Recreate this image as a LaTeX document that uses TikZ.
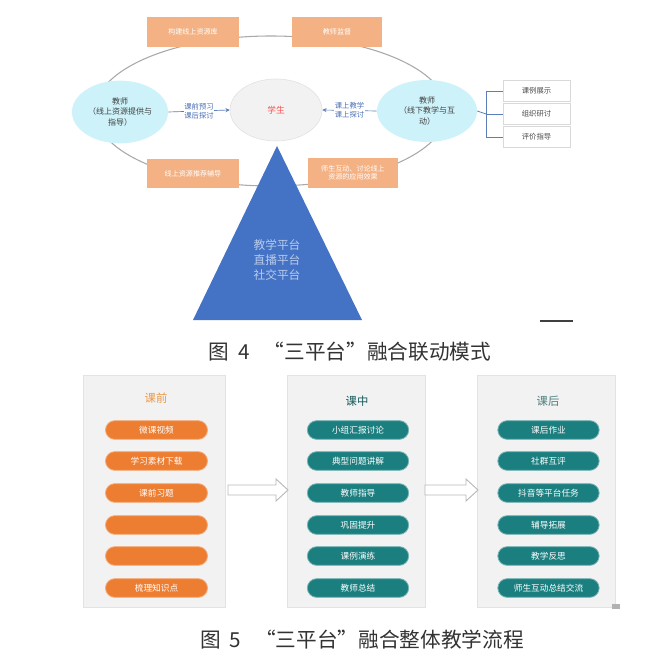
\documentclass[tikz,border=0pt]{standalone}
\usepackage{fontspec}
\setmainfont{Noto Sans CJK SC}
\usetikzlibrary{shapes.geometric,arrows.meta}
\definecolor{ringc}{HTML}{A9A9A9}
\definecolor{orangeL}{HTML}{F4B183}
\definecolor{cyanL}{HTML}{CDF2FA}
\definecolor{blueT}{HTML}{4A6FB5}
\definecolor{blueA}{HTML}{5B7DB8}
\definecolor{triC}{HTML}{4472C4}
\definecolor{triT}{HTML}{B9CBEA}
\definecolor{pillO}{HTML}{ED7D31}
\definecolor{pillT}{HTML}{1B7F80}
\definecolor{panelF}{HTML}{F2F2F2}
\definecolor{capC}{HTML}{333333}
\begin{document}
\begin{tikzpicture}[x=0.75pt,y=-0.75pt,
  obox/.style={fill=orangeL, text=white, font=\fontsize{5.3}{6.5}\selectfont, align=center, inner sep=1pt},
  tealell/.style={ellipse, fill=cyanL, minimum width=72pt, minimum height=47pt, inner sep=0pt, align=center, font=\fontsize{6}{7.6}\selectfont, text=black!75},
  stu/.style={ellipse, fill=gray!10, draw=gray!25, minimum width=69pt, minimum height=46.5pt, inner sep=0pt, text=red!70, font=\fontsize{6.5}{8}\selectfont},
  lbl/.style={fill=white, text=blueT, font=\fontsize{5.5}{6.8}\selectfont, align=center, inner sep=0.6pt},
  conn/.style={draw=blueA, line width=0.5pt, -{Stealth[length=3.2pt,width=3pt]}},
  rbox/.style={draw=gray!30, fill=white, minimum width=50pt, minimum height=16pt, inner sep=0pt, font=\fontsize{5.5}{6.5}\selectfont, text=black!70},
  brk/.style={draw=blueA, line width=0.6pt},
  panel/.style={fill=panelF, draw=gray!22, line width=0.7pt, inner sep=0pt},
  opill/.style={rounded corners=7pt, fill=pillO, draw=pillO!65!white, line width=0.6pt, minimum width=76.5pt, minimum height=14pt, inner sep=0pt, text=white, font=\fontsize{6.5}{7}\selectfont},
  tpill/.style={rounded corners=7pt, fill=pillT, draw=pillT!60!white, line width=0.6pt, minimum width=76pt, minimum height=14pt, inner sep=0pt, text=white, font=\fontsize{6.5}{7}\selectfont},
  ptitle/.style={font=\fontsize{8.5}{9}\selectfont},
  harrow/.style={draw=gray!55, fill=white, line width=0.7pt},
  captext/.style={text=capC, font=\fontsize{15.5}{16}\selectfont}
]
\useasboundingbox[fill=white] (0,0) rectangle (661,666);

% ---------- Figure 4 ----------
\draw[ringc, line width=0.8pt] (271,111) ellipse [x radius=132pt, y radius=56.25pt];

\node[tealell] (L) at (120,112) {教师\\（线上资源提供与\\指导）};
\node[tealell, minimum width=75pt, minimum height=46.5pt] (R) at (427,111) {教师\\（线下教学与互\\动）};
\node[stu] (S) at (276,110) {学生};

\draw[conn] (L.east) -- node[lbl] {课前预习\\课后探讨} (S.west);
\draw[conn] (R.west) -- node[lbl] {课上教学\\课上探讨} (S.east);

\node[obox, minimum width=69pt, minimum height=22pt] (o1) at (193,32) {构建线上资源库};
\node[obox, minimum width=67pt, minimum height=22pt] (o2) at (337,32) {教师监督};
\node[obox, minimum width=69pt, minimum height=21.5pt] (o3) at (193,173.5) {线上资源推荐辅导};
\node[obox, minimum width=67.5pt, minimum height=22.5pt] (o4) at (353,173) {师生互动、讨论线上\\资源的应用效果};

\node[rbox] (r1) at (536.5,91) {课例展示};
\node[rbox] (r2) at (536.5,114) {组织研讨};
\node[rbox] (r3) at (536.5,137) {评价指导};
\coordinate (bk) at (486,114);
\draw[brk] (R.east) -- (bk);
\draw[brk] (bk|-r1.west) -- (bk|-r3.west);
\draw[brk] (bk|-r1.west) -- (r1.west);
\draw[brk] (bk|-r2.west) -- (r2.west);
\draw[brk] (bk|-r3.west) -- (r3.west);

\fill[triC] (277,146) -- (362,320) -- (193,320) -- cycle;
\node[text=triT, align=center, font=\fontsize{8.8}{11.2}\selectfont] (tri) at (277,260) {教学平台\\直播平台\\社交平台};

\draw[black!75, line width=1.2pt] (540,321) -- (573,321);

\node[captext] (cap4) at (350,352) {图\ \ 4\ \ \ “三平台”融合联动模式};

% ---------- Figure 5 ----------
\node[panel, minimum width=106.5pt, minimum height=174pt] (P1) at (154,491) {};
\node[panel, minimum width=103.5pt, minimum height=174pt] (P2) at (356,491) {};
\node[panel, minimum width=103.5pt, minimum height=174pt] (P3) at (546,491) {};

\node[ptitle, text=orange!60!brown!80] (t1) at (156,398) {课前};
\node[ptitle, text=pillT!70!black] (t2) at (357,401) {课中};
\node[ptitle, text=pillT!50!gray] (t3) at (548,401) {课后};

\node[opill] (a1) at (156.5,430) {微课视频};
\node[opill] (a2) at (156.5,461) {学习素材下载};
\node[opill] (a3) at (156.5,493) {课前习题};
\node[opill] (a4) at (156.5,525) {};
\node[opill] (a5) at (156.5,556) {};
\node[opill] (a6) at (156.5,588) {梳理知识点};

\node[tpill] (b1) at (358,430) {小组汇报讨论};
\node[tpill] (b2) at (358,461) {典型问题讲解};
\node[tpill] (b3) at (358,493) {教师指导};
\node[tpill] (b4) at (358,525) {巩固提升};
\node[tpill] (b5) at (358,556) {课例演练};
\node[tpill] (b6) at (358,588) {教师总结};

\node[tpill] (c1) at (548.5,430) {课后作业};
\node[tpill] (c2) at (548.5,461) {社群互评};
\node[tpill] (c3) at (548.5,493) {抖音等平台任务};
\node[tpill] (c4) at (548.5,525) {辅导拓展};
\node[tpill] (c5) at (548.5,556) {教学反思};
\node[tpill] (c6) at (548.5,588) {师生互动总结交流};

\draw[harrow] (228,485) -- (276,485) -- (276,479) -- (288,490) -- (276,501) -- (276,495) -- (228,495) -- cycle;
\draw[harrow] (425,485) -- (466,485) -- (466,479) -- (478,490) -- (466,501) -- (466,495) -- (425,495) -- cycle;

\fill[gray!60] (612,604) rectangle (620,609);

\node[captext] (cap5) at (362,640) {图\ \ 5\ \ \ “三平台”融合整体教学流程};
\end{tikzpicture}
\end{document}
